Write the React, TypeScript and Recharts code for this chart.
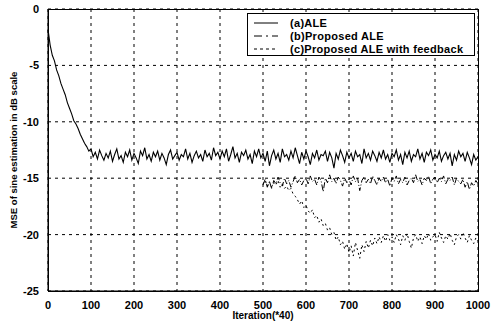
import { LineChart, Line, XAxis, YAxis, CartesianGrid } from "recharts";

// iteration axis (*40), step 5
const aleX: number[] = Array.from({ length: 201 }, (_, i) => i * 5);

// (a) ALE, 0..1000
const aleMse: number[] = [
  -1.8, -3.2, -4.1, -4.6, -5.4, -5.9, -6.6, -7.1, -7.6, -8.3, -8.8, -9.3, -9.9, -10.2, -10.6, -11.1, -11.5, -11.9, -12.2, -12.6,
  -12.4, -13.1, -12.7, -13.3, -12.5, -13.0, -13.4, -12.8, -13.2, -12.6, -13.5, -12.9, -12.4, -13.3, -13.0, -13.6, -12.7, -13.1, -12.5, -13.4,
  -12.8, -13.2, -13.7, -12.6, -13.0, -12.3, -13.3, -12.9, -13.5, -12.7, -13.1, -12.6, -13.4, -12.8, -13.2, -13.8, -12.9, -12.5, -13.3, -13.0,
  -12.7, -13.4, -12.9, -13.1, -12.4, -13.3, -12.8, -13.6, -13.0, -12.6, -13.2, -12.9, -13.5, -12.5, -13.1, -12.8, -13.4, -12.3, -13.0, -12.7,
  -13.3, -12.6, -13.1, -12.4, -13.5, -12.9, -12.2, -13.2, -12.8, -13.6, -12.7, -13.0, -12.5, -13.3, -12.9, -13.7, -12.6, -13.1, -12.4, -13.2,
  -12.8, -13.5, -12.6, -13.9, -13.0, -12.5, -13.3, -12.8, -13.6, -12.4, -13.1, -12.9, -13.4, -12.6, -13.2, -12.3, -13.0, -13.7, -12.7, -13.3,
  -12.6, -13.1, -13.8, -12.8, -13.2, -12.5, -13.4, -12.9, -13.0, -12.6, -13.5, -12.7, -13.2, -14.1, -12.8, -13.3, -12.5, -13.0, -13.6, -12.7,
  -13.2, -12.8, -13.5, -12.6, -13.1, -12.9, -13.7, -12.4, -13.2, -12.8, -13.4, -12.6, -13.0, -13.5, -12.7, -13.2, -12.5, -13.3, -12.9, -13.6,
  -12.8, -13.1, -12.5, -13.4, -12.9, -13.8, -12.7, -13.2, -12.6, -13.5, -12.9, -13.1, -12.4, -13.3, -12.8, -13.6, -12.7, -13.0, -12.5, -13.4,
  -12.9, -13.2, -12.6, -13.5, -13.0, -12.7, -13.3, -12.8, -13.9, -12.9, -13.4, -12.6, -13.1, -12.8, -13.5, -12.7, -13.2, -13.8, -12.9, -13.4,
  -13.1,
];

// (b) Proposed ALE, 500..1000
const proposedMse: number[] = [
  -15.6, -15.1, -15.8, -15.3, -15.9, -15.2, -15.5, -14.9, -15.4, -15.7, -15.0, -15.5, -15.2, -15.8, -15.3, -14.8, -15.4, -15.1, -15.6, -15.2,
  -15.0, -15.5, -14.8, -15.3, -15.1, -15.6, -14.9, -15.2, -16.2, -15.0, -15.4, -14.7, -15.3, -15.0, -15.5, -14.9, -15.2, -15.7, -15.0, -15.4,
  -15.1, -15.6, -14.8, -15.3, -15.0, -16.1, -15.2, -14.9, -15.4, -15.1, -15.5, -14.8, -15.2, -15.6, -15.0, -15.3, -14.9, -15.4, -15.1, -15.7,
  -15.0, -15.3, -14.8, -15.5, -15.1, -15.4, -14.9, -15.6, -15.2, -15.0, -15.4, -14.7, -15.3, -15.1, -15.6, -15.0, -15.2, -14.8, -15.5, -15.1,
  -14.9, -15.4, -15.0, -15.3, -14.8, -15.5, -15.1, -15.2, -14.9, -15.6, -15.0, -15.3, -15.5, -15.1, -15.8, -15.3, -16.0, -15.4, -15.7, -15.2,
  -15.5,
];

// (c) Proposed ALE with feedback, 500..1000
const feedbackMse: number[] = [
  -15.5, -15.2, -15.7, -15.3, -15.8, -15.4, -15.6, -15.2, -15.8, -15.5, -15.9, -15.7, -16.1, -15.9, -16.4, -16.6, -16.9, -17.3, -17.0, -17.6,
  -17.4, -17.9, -18.1, -17.8, -18.5, -18.3, -18.9, -18.6, -19.2, -19.0, -19.6, -19.4, -20.0, -19.8, -20.5, -20.2, -20.9, -20.6, -21.3, -20.8,
  -21.6, -21.0, -21.9, -20.7, -21.4, -22.1, -20.9, -21.5, -20.6, -21.2, -20.5, -21.0, -20.3, -20.8, -20.2, -20.7, -20.1, -20.6, -20.0, -20.5,
  -20.2, -20.7, -20.0, -20.4, -20.9, -20.1, -20.5, -19.9, -20.6, -21.2, -20.3, -20.0, -20.6, -20.2, -20.8, -20.1, -20.4, -19.9, -20.5, -20.2,
  -20.0, -20.6, -19.8, -20.3, -20.7, -20.1, -20.4, -19.9, -20.5, -20.9, -20.2, -20.0, -20.4, -19.8, -20.3, -20.7, -20.1, -20.5, -20.8, -20.3,
  -20.6,
];

const xTicks = [0, 100, 200, 300, 400, 500, 600, 700, 800, 900, 1000];
const yTicks = [-25, -20, -15, -10, -5, 0];

const data = aleX.map((x, i) => ({
  x,
  a: aleMse[i],
  b: i >= 100 ? proposedMse[i - 100] : null,
  c: i >= 100 ? feedbackMse[i - 100] : null,
}));

const font = "'Liberation Sans', Arial, sans-serif";
const tickStyle = { fill: "#000", fontSize: 11, fontWeight: 700, fontFamily: font };

function LegendRow({ dash, label }: { dash?: string; label: string }) {
  return (
    <div style={{ display: "flex", alignItems: "center", height: 13 }}>
      <svg width={30} height={6} style={{ marginLeft: 6, marginRight: 6 }}>
        <line x1={0} y1={3} x2={24} y2={3} stroke="#000" strokeWidth={1} strokeDasharray={dash} />
      </svg>
      <span>{label}</span>
    </div>
  );
}

export default function App() {
  return (
    <div style={{ position: "absolute", left: 0, top: 0, width: 492, height: 325, background: "#fff" }}>
      <LineChart width={492} height={325} data={data} margin={{ top: 9, right: 14, bottom: 0, left: 18 }}>
        <CartesianGrid stroke="#000" strokeDasharray="3 4" strokeWidth={1} />
        <XAxis
          dataKey="x"
          type="number"
          domain={[0, 1000]}
          ticks={xTicks}
          tick={tickStyle}
          tickLine={false}
          axisLine={{ stroke: "#000" }}
          tickMargin={4}
          height={34}
        />
        <YAxis
          type="number"
          domain={[-25, 0]}
          ticks={yTicks}
          tick={tickStyle}
          tickLine={false}
          axisLine={{ stroke: "#000" }}
          tickMargin={3}
          width={30}
          allowDataOverflow
        />
        <Line dataKey="a" stroke="#000" strokeWidth={1.1} dot={false} isAnimationActive={false} />
        <Line dataKey="b" stroke="#000" strokeWidth={1} strokeDasharray="6 2 1 2" dot={false} isAnimationActive={false} />
        <Line dataKey="c" stroke="#000" strokeWidth={1} strokeDasharray="2 3" dot={false} isAnimationActive={false} />
      </LineChart>

      {/* plot frame */}
      <div
        style={{
          position: "absolute",
          left: 48,
          top: 9,
          width: 431,
          height: 283,
          border: "1px solid #000",
          boxSizing: "border-box",
          pointerEvents: "none",
        }}
      />

      {/* legend */}
      <div
        style={{
          position: "absolute",
          left: 247,
          top: 13,
          width: 228,
          height: 43,
          border: "1px solid #000",
          background: "#fff",
          boxSizing: "border-box",
          fontFamily: font,
          fontSize: 11,
          fontWeight: 700,
          paddingTop: 2,
          letterSpacing: 0.3,
        }}
      >
        <LegendRow label="(a)ALE" />
        <LegendRow dash="8 4 2 4" label="(b)Proposed ALE" />
        <LegendRow dash="3 3" label="(c)Proposed ALE with feedback" />
      </div>

      {/* axis titles */}
      <div
        style={{
          position: "absolute",
          left: 263,
          top: 310,
          transform: "translateX(-50%)",
          fontFamily: font,
          fontSize: 10,
          fontWeight: 700,
          whiteSpace: "nowrap",
        }}
      >
        Iteration(*40)
      </div>
      <div
        style={{
          position: "absolute",
          left: 13,
          top: 150,
          transform: "translate(-50%, -50%) rotate(-90deg)",
          fontFamily: font,
          fontSize: 9.5,
          fontWeight: 700,
          whiteSpace: "nowrap",
        }}
      >
        MSE of sine estimation in dB scale
      </div>
    </div>
  );
}
